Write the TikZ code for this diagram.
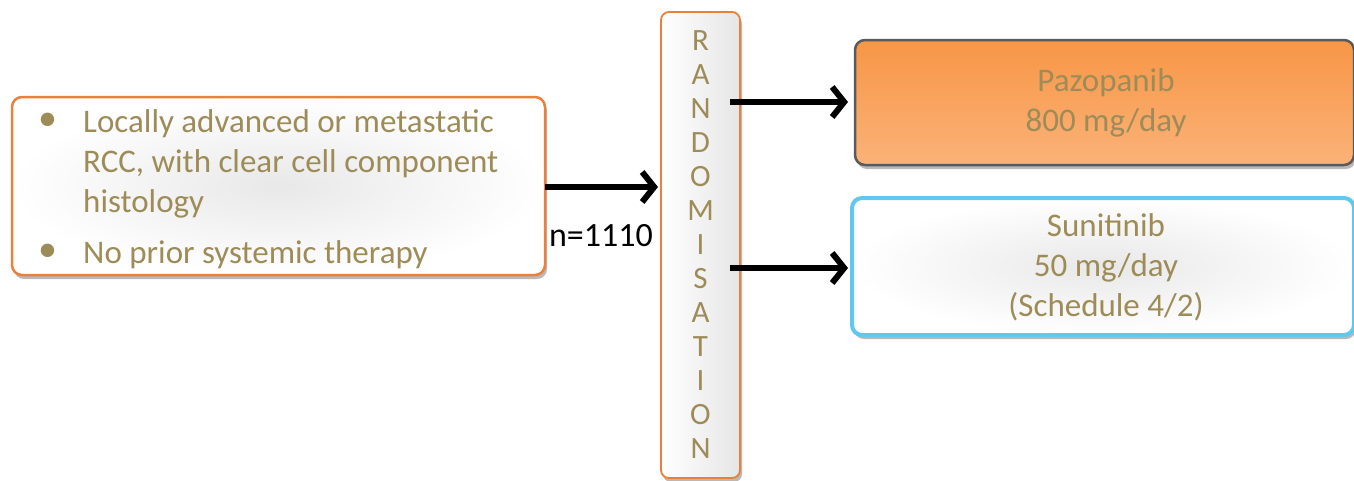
\documentclass[tikz,border=0pt]{standalone}
\usepackage{fontspec}
\setmainfont{Carlito}
\usetikzlibrary{arrows.meta,shadows}
\definecolor{txt}{RGB}{158,140,88}
\definecolor{borange}{RGB}{236,128,58}
\definecolor{forange}{RGB}{247,150,70}
\definecolor{forangel}{RGB}{251,178,120}
\definecolor{bblue}{RGB}{96,200,238}
\definecolor{bgray}{RGB}{90,90,90}
\tikzset{
  box/.style={rounded corners=10pt, drop shadow={shadow xshift=2pt,shadow yshift=-4pt,fill=black!55}},
  lightfill/.style={inner color=black!9, outer color=white},
  arr/.style={line width=5.5pt,-{Straight Barb[length=12pt,width=30pt,line width=6pt]}},
  lbl/.style={text=txt, font=\fontsize{33}{40}\selectfont, inner sep=0pt}
}
\begin{document}
\begin{tikzpicture}[x=1pt,y=-1pt]
\useasboundingbox (0,0) rectangle (1354,480);
% left box
\path[box, lightfill, draw=borange, line width=2.5pt] (12,97) rectangle (545,275);
\coordinate (lbE) at (545,187);
\node[lbl, anchor=base west, align=left] (crit) at (38,263)
 {\makebox[45pt][l]{\fontsize{38}{40}\selectfont\raisebox{2pt}{\textbullet}}Locally advanced or metastatic\\
  \hspace*{45pt}RCC, with clear cell component\\
  \hspace*{45pt}histology\\[11pt]
  \makebox[45pt][l]{\fontsize{38}{40}\selectfont\raisebox{2pt}{\textbullet}}No prior systemic therapy};
% randomisation
\path[box, draw=borange, line width=1.8pt, left color=white, right color=black!10, rounded corners=8pt] (661,12) rectangle (740,478);
\node[text=txt, font=\fontsize{31}{34}\selectfont, align=center, inner sep=0pt] (rand) at (700.5,245)
 {R\\A\\N\\D\\O\\M\\I\\S\\A\\T\\I\\O\\N};
\coordinate (rW) at (658,187);
\coordinate (rE1) at (730,102);
\coordinate (rE2) at (730,268);
% pazopanib
\path[box, draw=bgray, line width=2.5pt, top color=forange, bottom color=forangel] (855,40) rectangle (1354,165);
\node[lbl, align=center] (pazo) at (1106,103) {Pazopanib\\800 mg/day};
\coordinate (pW) at (848,102);
% sunitinib
\path[box, draw=bblue, line width=4pt, lightfill] (852,198) rectangle (1354,335);
\node[lbl, align=center] (suni) at (1106,267) {Sunitinib\\50 mg/day\\(Schedule 4/2)};
\coordinate (sW) at (848,268);
% arrows
\draw[arr] (lbE) -- (rW);
\draw[arr] (rE1) -- (pW);
\draw[arr] (rE2) -- (sW);
\node[font=\fontsize{34}{38}\selectfont, anchor=base, inner sep=0pt] (n) at (601,246) {n=1110};
\end{tikzpicture}
\end{document}
